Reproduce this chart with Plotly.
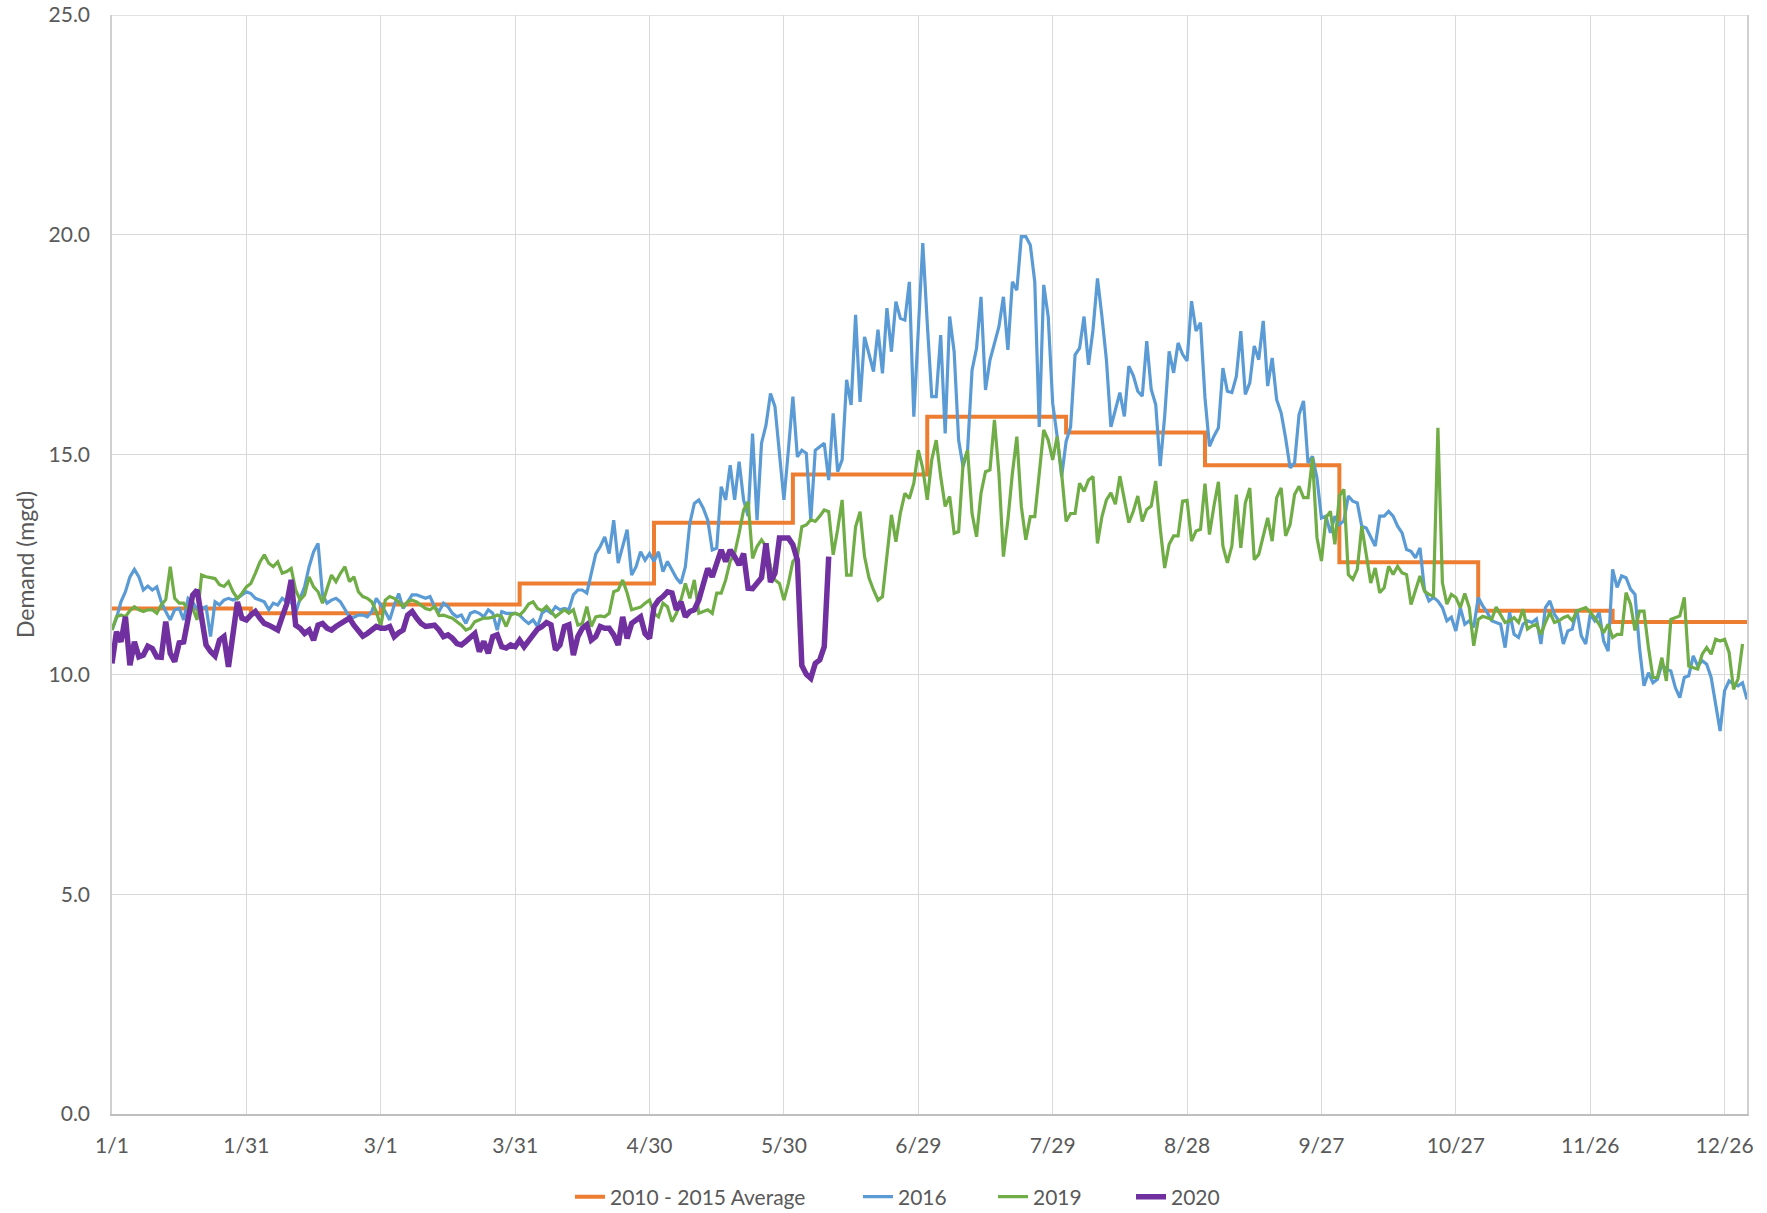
import pandas as pd
import plotly.graph_objects as go

# ---------------- data ----------------
month_starts = ["2020-01-01", "2020-02-01", "2020-03-01", "2020-04-01", "2020-05-01", "2020-06-01",
                "2020-07-01", "2020-08-01", "2020-09-01", "2020-10-01", "2020-11-01", "2020-12-01"]
avg_2010_2015 = [11.50, 11.39, 11.59, 12.07, 13.45, 14.55, 15.86, 15.50, 14.76, 12.55, 11.45, 11.19]
year_end = "2020-12-31"
series_start = "2020-01-01"
y_max = 25

demand_2016 = [
    11.01, 11.28, 11.65, 11.88, 12.22, 12.39, 12.22, 11.92, 12.01, 11.92,
    11.99, 11.65, 11.43, 11.24, 11.47, 11.50, 11.24, 11.73, 11.65, 11.47,
    11.50, 11.54, 10.86, 11.65, 11.58, 11.69, 11.73, 11.69, 11.73, 11.81,
    11.88, 11.84, 11.73, 11.69, 11.65, 11.47, 11.62, 11.58, 11.73, 11.65,
    11.65, 11.39, 11.73, 11.99, 12.45, 12.79, 12.98, 11.81, 11.62, 11.69,
    11.73, 11.65, 11.47, 11.31, 11.30, 11.35, 11.35, 11.31, 11.43, 11.73,
    11.58, 11.43, 11.24, 11.58, 11.84, 11.50, 11.65, 11.81, 11.81, 11.77,
    11.73, 11.77, 11.54, 11.43, 11.62,
    11.54, 11.39, 11.31, 11.35, 11.16, 11.39, 11.43, 11.39, 11.31, 11.47,
    11.39, 11.01, 11.43, 11.39, 11.39, 11.39, 11.35, 11.24, 11.16, 11.24,
    11.09, 11.39, 11.47, 11.39, 11.54, 11.47, 11.50, 11.47, 11.81, 11.92,
    11.92, 11.85, 12.30, 12.74, 12.91, 13.13, 12.75, 13.51, 12.53, 12.91,
    13.29, 12.26, 12.45, 12.79, 12.60, 12.75, 12.57, 12.79, 12.34, 12.57,
    12.38, 12.19, 12.07, 12.45, 13.44, 13.89, 13.97, 13.78, 13.51, 12.83,
    12.87, 14.27, 13.97, 14.76, 13.97, 14.84, 13.97, 13.60, 15.48, 13.51,
    15.26, 15.67, 16.39, 16.09, 15.03,
    13.97, 15.10, 16.32, 14.95, 15.10, 15.03, 13.51, 15.10, 15.18, 15.26,
    14.42, 15.94, 14.61, 14.88, 16.70, 16.13, 18.18, 16.20, 17.68, 17.30,
    16.89, 17.84, 16.85, 18.33, 17.34, 18.48, 18.10, 18.06, 18.93, 15.86,
    17.99, 19.81, 17.99, 16.32, 16.32, 17.72, 15.48, 18.14, 17.34, 15.33,
    14.72, 15.10, 16.92, 17.42, 18.59, 16.47, 17.15, 17.53, 17.91, 18.59,
    17.38, 18.93, 18.74, 19.96, 19.96, 19.77, 18.93, 15.63, 18.86, 18.14,
    16.17, 15.41, 14.50, 15.30, 15.63, 17.27, 17.42, 18.14, 17.04, 17.84,
    19.01, 18.14, 17.15, 15.63,
    16.00, 16.41, 15.87, 17.01, 16.80, 16.44, 16.33, 17.58, 16.48, 16.14,
    14.74, 15.87, 17.35, 16.86, 17.54, 17.28, 17.13, 18.49, 17.81, 18.00,
    16.29, 15.19, 15.42, 15.61, 16.97, 16.44, 16.41, 16.78, 17.81, 16.37,
    16.63, 17.47, 17.16, 18.04, 16.56, 17.20, 16.25, 15.95, 15.38, 14.70,
    14.81, 15.91, 16.22, 14.81, 14.96, 14.47, 13.56, 13.60, 13.22, 13.60,
    13.41, 13.49, 14.06, 13.94, 13.90, 13.37, 13.33, 13.14, 12.92, 13.60,
    13.60, 13.71, 13.60, 13.37, 13.22, 12.84, 12.80, 12.65, 12.88, 11.93,
    11.67, 11.75,
    11.67, 11.52, 11.22, 11.30, 10.99, 11.52, 11.14, 11.22, 11.07, 11.75,
    11.56, 11.41, 11.22, 11.18, 11.14, 10.61, 11.41, 10.91, 10.84, 11.14,
    11.22, 11.18, 11.26, 10.69, 11.52, 11.67, 11.37, 11.22, 10.69, 10.99,
    11.03, 11.48, 10.88, 10.69, 11.37, 11.22, 11.41, 10.76, 10.53, 12.39,
    11.98, 12.24, 12.20, 11.94, 11.82, 10.61, 9.74, 10.04, 9.81, 9.89,
    10.23, 10.12, 10.08, 9.70, 9.47, 9.93, 9.97, 10.42, 10.19, 10.31,
    10.23, 9.93, 9.32, 8.71, 9.63, 9.85, 9.78, 9.74, 9.81, 9.43,
]

demand_2019 = [
    11.01, 11.31, 11.35, 11.31, 11.45, 11.54, 11.47, 11.43, 11.47, 11.47,
    11.39, 11.58, 11.70, 12.45, 11.73, 11.62, 11.62, 11.47, 11.50, 11.24,
    12.26, 12.22, 12.20, 12.18, 12.04, 12.00, 12.11, 11.88, 11.73, 11.84,
    11.99, 12.07, 12.30, 12.55, 12.72, 12.53, 12.45, 12.56, 12.30, 12.34,
    12.41, 11.92, 11.69, 11.81, 12.22, 11.99, 11.88, 11.62, 11.95, 12.26,
    12.11, 12.30, 12.45, 12.11, 12.22, 11.88, 11.77, 11.73, 11.65, 11.43,
    11.09, 11.69, 11.77, 11.73, 11.65, 11.54, 11.65, 11.69, 11.65, 11.58,
    11.50, 11.47, 11.54, 11.34, 11.35, 11.31, 11.28, 11.20, 11.12, 11.01,
    11.05, 11.20, 11.24, 11.28, 11.28, 11.30, 11.35, 11.31, 11.09, 11.35,
    11.39, 11.35, 11.45, 11.60, 11.65, 11.50, 11.45, 11.55,
    11.43, 11.31, 11.39, 11.47, 11.39, 11.47, 11.12, 11.16, 11.54, 11.09,
    11.31, 11.33, 11.31, 11.39, 11.88, 11.92, 12.15, 11.85, 11.47, 11.50,
    11.53, 11.62, 11.69, 11.39, 11.31, 11.62, 11.54, 11.20, 11.39, 11.69,
    12.07, 11.73, 12.15, 11.39, 11.43, 11.47, 11.39, 11.85, 11.85, 12.15,
    12.57, 12.75, 13.21, 13.74, 13.93, 12.64, 12.91, 13.06, 12.91, 12.45,
    12.15,
    12.07, 11.69, 12.07, 12.57, 12.68, 13.36, 13.40, 13.52, 13.48, 13.60,
    13.74, 13.70, 12.72, 13.30, 13.97, 12.26, 12.26, 13.36, 13.70, 12.68,
    12.19, 11.92, 11.69, 11.77, 12.76, 13.63, 13.02, 13.67, 14.12, 14.00,
    14.35, 15.10, 14.69, 13.97, 14.88, 15.33, 14.50, 13.82, 14.05, 13.21,
    13.25, 14.80, 15.10, 13.66, 13.13, 14.12, 14.61, 14.65, 15.79, 14.57,
    12.68, 13.51, 14.57, 15.41, 13.82, 13.06, 13.59, 13.59, 14.57, 15.56,
    15.33, 14.88, 15.41, 14.57, 13.48, 13.66, 13.66, 14.35, 14.16, 14.42,
    14.50, 12.98, 13.59, 13.97,
    14.13, 13.87, 14.51, 13.97, 13.45, 13.71, 14.06, 13.48, 13.75, 13.83,
    14.40, 13.33, 12.42, 12.96, 13.15, 13.15, 13.94, 13.96, 13.03, 13.26,
    13.30, 14.34, 13.18, 13.83, 14.38, 12.92, 12.54, 12.92, 14.09, 12.88,
    13.90, 14.24, 12.61, 12.73, 13.18, 13.56, 13.03, 14.02, 14.24, 13.15,
    13.41, 14.09, 14.28, 14.02, 14.02, 14.93, 13.11, 12.58, 13.56, 13.71,
    12.96, 14.06, 14.21, 12.27, 12.16, 12.39, 13.37, 12.73, 12.08, 12.42,
    11.86, 11.97, 12.46, 12.27, 12.46, 12.31, 12.27, 11.59, 11.89, 12.24,
    11.89, 11.82,
    11.78, 15.61, 12.09, 11.60, 11.82, 11.75, 11.52, 11.84, 11.52, 10.65,
    11.25, 11.32, 11.29, 11.25, 11.53, 11.37, 11.18, 11.22, 11.29, 11.18,
    11.48, 11.03, 11.10, 11.14, 10.91, 11.18, 11.41, 11.18, 11.22, 11.29,
    11.33, 11.22, 11.44, 11.48, 11.52, 11.41, 11.29, 11.14, 10.95, 11.14,
    10.84, 10.91, 10.91, 11.86, 11.60, 11.00, 11.44, 11.44, 10.61, 9.93,
    9.93, 10.38, 9.85, 11.25, 11.29, 11.33, 11.75, 10.19, 10.15, 10.12,
    10.46, 10.61, 10.46, 10.80, 10.76, 10.80, 10.50, 9.66, 9.90, 10.69,
]

demand_2020 = [
    10.25, 10.97, 10.74, 11.31, 10.21, 10.74, 10.40, 10.44, 10.64, 10.59,
    10.40, 10.39, 11.20, 10.48, 10.29, 10.72, 10.74, 11.31, 11.80, 11.92,
    11.31, 10.67, 10.52, 10.42, 10.78, 10.86, 10.17, 11.01, 11.65, 11.28,
    11.24, 11.35, 11.43, 11.28, 11.16, 11.12, 11.05, 11.01, 11.31, 11.60,
    12.15,
    11.12, 11.05, 10.93, 11.01, 10.78, 11.12, 11.16, 11.05, 11.01, 11.09,
    11.16, 11.20, 11.28, 11.12, 10.97, 10.87, 10.93, 11.01, 11.09, 11.05,
    11.05, 11.09, 10.86, 10.95, 11.01, 11.35, 11.43, 11.28, 11.16, 11.09,
    11.09, 11.12, 11.01, 10.86,
    10.90, 10.82, 10.70, 10.67, 10.75, 10.86, 10.93, 10.52, 10.75, 10.48,
    10.86, 10.90, 10.63, 10.60, 10.67, 10.63, 10.78, 10.63, 10.78, 10.93,
    11.03, 11.09, 11.18, 11.13, 10.56, 10.67, 11.09, 11.13, 10.44, 10.86,
    11.05, 11.13, 10.78, 10.86, 11.09, 11.05, 11.05, 10.90, 10.67, 11.31,
    10.82, 11.16, 11.25, 11.31, 10.93, 10.82, 11.54, 11.69, 11.77, 11.88,
    11.85, 11.47, 11.65, 11.31, 11.43, 11.47, 11.69, 12.07, 12.41, 12.22,
    12.53, 12.83, 12.57, 12.83, 12.68, 12.49, 12.75, 11.96, 11.95, 12.07,
    12.20, 12.98,
    12.10, 12.30, 13.10, 13.10, 13.10, 12.95, 12.60, 10.20, 10.00, 9.91,
    10.25, 10.33, 10.63, 12.68,
]

tick_dates = ["2020-01-01", "2020-01-31", "2020-03-01", "2020-03-31", "2020-04-30", "2020-05-30",
              "2020-06-29", "2020-07-29", "2020-08-28", "2020-09-27", "2020-10-27", "2020-11-26",
              "2020-12-26"]
tick_labels = ["1/1", "1/31", "3/1", "3/31", "4/30", "5/30", "6/29", "7/29", "8/28", "9/27",
               "10/27", "11/26", "12/26"]

# ---------------- figure ----------------
FONT = "Lato, 'Open Sans', sans-serif"
GREY = "#595959"
GRID = "#D9D9D9"
W, H = 1767, 1213


def day_axis(values):
    return pd.date_range(series_start, periods=len(values), freq="D")


fig = go.Figure()
fig.add_trace(go.Scatter(
    x=month_starts + [year_end], y=avg_2010_2015 + [avg_2010_2015[-1]],
    mode="lines", name="2010 - 2015 Average", legend="legend",
    line=dict(color="#ED7D31", width=4, shape="hv")))
fig.add_trace(go.Scatter(
    x=day_axis(demand_2016), y=demand_2016, mode="lines", name="2016", legend="legend2",
    line=dict(color="#5B9BD5", width=3.2)))
fig.add_trace(go.Scatter(
    x=day_axis(demand_2019), y=demand_2019, mode="lines", name="2019", legend="legend3",
    line=dict(color="#70AD47", width=3.2)))
fig.add_trace(go.Scatter(
    x=day_axis(demand_2020), y=demand_2020, mode="lines", name="2020", legend="legend4",
    line=dict(color="#7030A0", width=5.5)))

legend_text_x = [612, 900, 1035, 1173]   # left edge of each legend label (px)
legend_common = dict(orientation="h", xref="container", yref="container",
                     xanchor="left", y=16 / H, yanchor="middle",
                     font=dict(family=FONT, size=21, color=GREY),
                     bgcolor="rgba(0,0,0,0)", borderwidth=0)
legends = {}
for i, tx in enumerate(legend_text_x):
    key = "legend" if i == 0 else f"legend{i + 1}"
    legends[key] = dict(legend_common, x=(tx - 42) / W)

fig.update_layout(
    width=W, height=H,
    margin=dict(l=112, r=20, t=15, b=99, autoexpand=False),
    paper_bgcolor="white", plot_bgcolor="white",
    font=dict(family=FONT, size=21, color=GREY),
    showlegend=True, hovermode=False,
    xaxis=dict(
        type="date", range=[series_start, year_end], automargin=False,
        tickmode="array", tickvals=tick_dates, ticktext=tick_labels,
        showgrid=True, gridcolor=GRID, gridwidth=1.3,
        showline=True, linecolor="#BFBFBF", linewidth=1.5,
        ticks="", ticklabelstandoff=12,
        tickfont=dict(family=FONT, size=21, color=GREY),
        zeroline=False,
    ),
    yaxis=dict(
        range=[0, y_max], tick0=0, dtick=5, tickformat=".1f", automargin=False,
        showgrid=True, gridcolor=GRID, gridwidth=1.3,
        showline=True, mirror=True, linecolor="#D0D0D0", linewidth=1.5,
        ticks="", ticklabelstandoff=16, ticklabeloverflow="allow",
        tickfont=dict(family=FONT, size=21, color=GREY),
        zeroline=False,
        title=dict(text="Demand (mgd)", standoff=7,
                   font=dict(family=FONT, size=23, color=GREY)),
    ),
    shapes=[dict(type="line", xref="paper", yref="y", x0=0, x1=1, y0=y_max, y1=y_max,
                 line=dict(color=GRID, width=1.3), layer="below")],
    **legends,
)

# remove the default 8px page margin so the figure fills the window exactly
fig.write_html("out.html",
               config={"displayModeBar": False},
               post_script="document.body.style.margin='0';document.body.style.overflow='hidden';")
